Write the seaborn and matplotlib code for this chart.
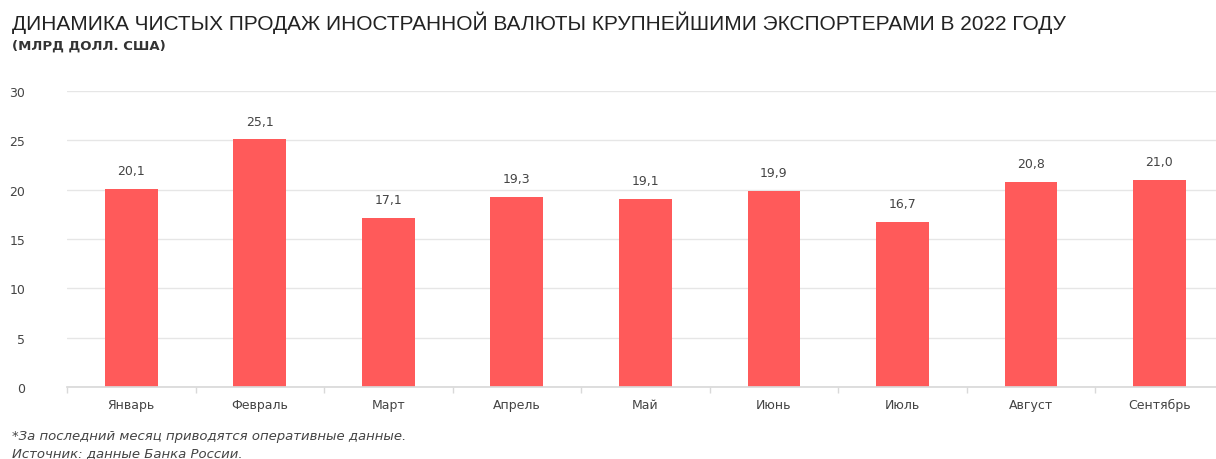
import matplotlib
matplotlib.use("Agg")
import matplotlib.pyplot as plt
import seaborn as sns
import pandas as pd
import numpy as np

months = ["Январь", "Февраль", "Март", "Апрель", "Май", "Июнь", "Июль", "Август", "Сентябрь"]
values = [20.1, 25.1, 17.1, 19.3, 19.1, 19.9, 16.7, 20.8, 21.0]
labels = ["20,1", "25,1", "17,1", "19,3", "19,1", "19,9", "16,7", "20,8", "21,0"]
yticks = [0, 5, 10, 15, 20, 25, 30]

sns.set_theme(style="white")
plt.rcParams['font.family'] = ['DejaVu Sans']

df = pd.DataFrame({"month": months, "value": values})

fig = plt.figure(figsize=(12.16, 4.6), dpi=100)
ax = fig.add_axes([67/1216, 1 - 388/460, 1 - 67/1216, (388 - 92)/460])

sns.barplot(data=df, x="month", y="value", color="#FF5A5A", width=0.41, ax=ax,
            saturation=1, linewidth=0)

ax.set_ylim(0, 30)
ax.set_xlim(-0.5, 8.44)
ax.set_yticks(yticks)
ax.set_yticklabels([str(t) for t in yticks])
ax.yaxis.grid(True, color="#E6E6E6", linewidth=1)
ax.set_axisbelow(True)
for s in ["top", "right", "left"]:
    ax.spines[s].set_visible(False)
ax.spines["bottom"].set_color("#D9D9D9")
ax.set_xlabel("")
ax.set_ylabel("")
ax.tick_params(axis="y", length=0, pad=30, labelsize=9, labelcolor="#444444")
ax.tick_params(axis="x", length=0, pad=8, labelsize=9, labelcolor="#444444")
ax.set_xticks(np.arange(-0.5, 8.5, 1), minor=True)
ax.tick_params(axis="x", which="minor", length=4, color="#D9D9D9", bottom=True)

for i, (v, lab) in enumerate(zip(values, labels)):
    ax.text(i, v + 1.2, lab, ha="center", va="bottom", fontsize=9, color="#444444")

fig.text(12/1216, 1 - 23/460, "ДИНАМИКА ЧИСТЫХ ПРОДАЖ ИНОСТРАННОЙ ВАЛЮТЫ КРУПНЕЙШИМИ ЭКСПОРТЕРАМИ В 2022 ГОДУ",
         fontsize=15, color="#222222", va="center", ha="left",
         family=["Liberation Sans", "DejaVu Sans"])
fig.text(12/1216, 1 - 46/460, "(МЛРД ДОЛЛ. США)", fontsize=9.5, color="#333333", va="center",
         ha="left", fontweight="bold", family=["Liberation Sans Narrow", "DejaVu Sans"])
fig.text(12/1216, 1 - 437/460, "*За последний месяц приводятся оперативные данные.",
         fontsize=9.5, color="#444444", style="italic", va="center", ha="left")
fig.text(12/1216, 1 - 454/460, "Источник: данные Банка России.",
         fontsize=9.5, color="#444444", style="italic", va="center", ha="left")

fig.savefig("out.png", dpi=100)
